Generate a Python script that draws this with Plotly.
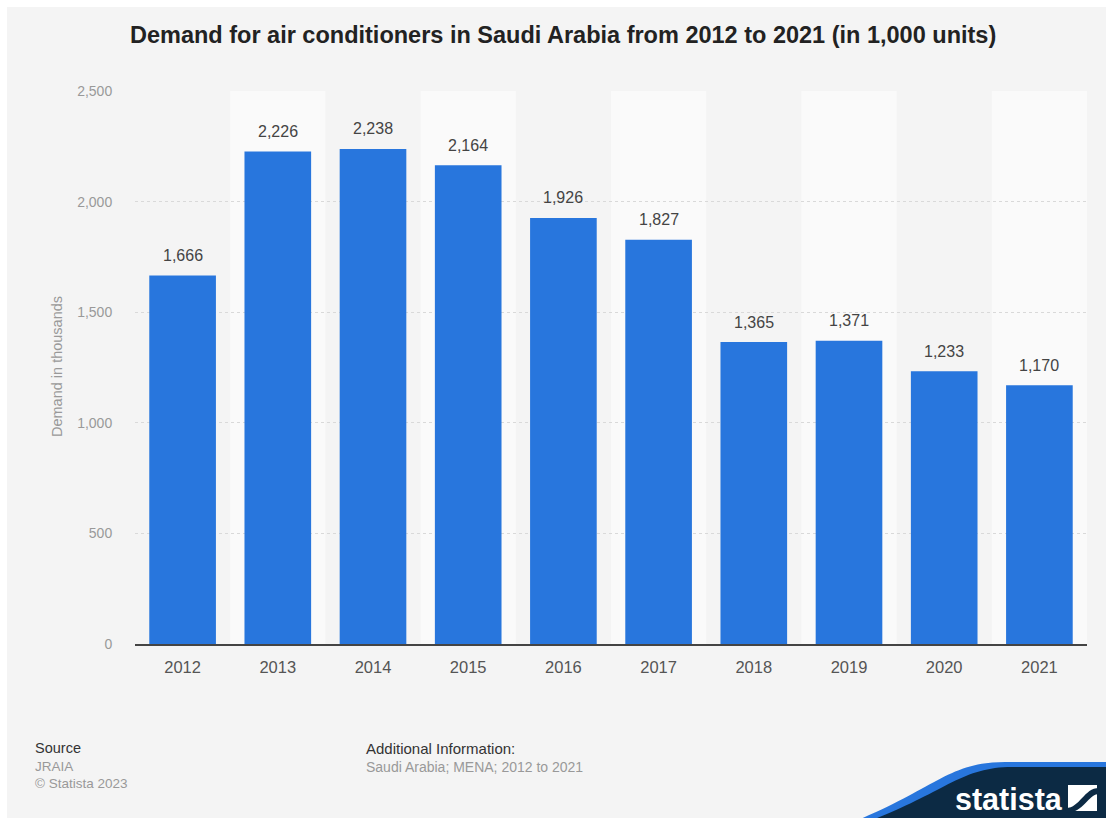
import plotly.graph_objects as go

years = ["2012", "2013", "2014", "2015", "2016", "2017", "2018", "2019", "2020", "2021"]
demand = [1666, 2226, 2238, 2164, 1926, 1827, 1365, 1371, 1233, 1170]
y_ticks = [0, 500, 1000, 1500, 2000, 2500]

W, H = 1106, 818
L, R, T, B = 135, 1087, 91, 644

def px(x):
    return (x - L) / (R - L)

def py(y):
    return (B - y) / (B - T)

FONT = "Liberation Sans, Arial, sans-serif"
BLUE = "#2876dd"
NAVY = "#0c2a44"

fig = go.Figure()
fig.add_trace(go.Bar(
    x=years, y=demand, marker=dict(color=BLUE, line=dict(width=0)),
    width=0.7, hoverinfo="skip",
))

shapes = []
# card background
shapes.append(dict(type="rect", xref="paper", yref="paper", x0=px(7), x1=px(W + 2),
                   y0=py(7), y1=py(H + 2), fillcolor="#f4f4f4", line=dict(width=0), layer="below"))
# alternating column bands
for i, _ in enumerate(years):
    if i % 2 == 1:
        shapes.append(dict(type="rect", xref="x", yref="paper", x0=i - 0.5, x1=i + 0.5,
                           y0=0, y1=1, fillcolor="#fafafa", line=dict(width=0), layer="below"))

def P(x, y):
    return f"{px(x):.5f},{py(y):.5f}"

blue_path = f"M {P(858,820)} C {P(935,788)} {P(950,762)} {P(1005,762)} L {P(1108,762)} L {P(1108,820)} Z"
navy_path = f"M {P(872,820)} C {P(945,792)} {P(962,767)} {P(1012,767)} L {P(1108,767)} L {P(1108,820)} Z"
shapes.append(dict(type="path", xref="paper", yref="paper", path=blue_path, fillcolor=BLUE, line=dict(width=0), layer="above"))
shapes.append(dict(type="path", xref="paper", yref="paper", path=navy_path, fillcolor=NAVY, line=dict(width=0), layer="above"))
# logo icon
shapes.append(dict(type="rect", xref="paper", yref="paper", x0=px(1068), x1=px(1097), y0=py(811), y1=py(785),
                   fillcolor="white", line=dict(width=0), layer="above"))
icon_cut = f"M {P(1066,808)} C {P(1080,808)} {P(1084,788)} {P(1099,788)} L {P(1099,794)} C {P(1088,794)} {P(1084,813)} {P(1066,813)} Z"
shapes.append(dict(type="path", xref="paper", yref="paper", path=icon_cut, fillcolor=NAVY, line=dict(width=0), layer="above"))

annotations = [
    dict(text="<b>Demand for air conditioners in Saudi Arabia from 2012 to 2021 (in 1,000 units)</b>",
         xref="paper", yref="paper", x=px(563), y=py(35), xanchor="center", yanchor="middle",
         showarrow=False, font=dict(size=23.5, color="#222", family=FONT)),
    dict(text="Demand in thousands", xref="paper", yref="paper", x=px(57), y=py(367), textangle=-90,
         xanchor="center", yanchor="middle", showarrow=False, font=dict(size=14.5, color="#999", family=FONT)),
    dict(text="Source", xref="paper", yref="paper", x=px(33), y=py(748), xanchor="left", yanchor="middle",
         showarrow=False, font=dict(size=14.5, color="#333", family=FONT)),
    dict(text="JRAIA", xref="paper", yref="paper", x=px(33), y=py(766), xanchor="left", yanchor="middle",
         showarrow=False, font=dict(size=13.5, color="#999", family=FONT)),
    dict(text="© Statista 2023", xref="paper", yref="paper", x=px(33), y=py(783), xanchor="left", yanchor="middle",
         showarrow=False, font=dict(size=13.5, color="#999", family=FONT)),
    dict(text="Additional Information:", xref="paper", yref="paper", x=px(364), y=py(748), xanchor="left",
         yanchor="middle", showarrow=False, font=dict(size=15, color="#333", family=FONT)),
    dict(text="Saudi Arabia; MENA; 2012 to 2021", xref="paper", yref="paper", x=px(364), y=py(767),
         xanchor="left", yanchor="middle", showarrow=False, font=dict(size=14, color="#999", family=FONT)),
    dict(text="<b>statista</b>", xref="paper", yref="paper", x=px(953), y=py(799), xanchor="left",
         yanchor="middle", showarrow=False, font=dict(size=30.5, color="white", family=FONT)),
]
# value labels above bars
for i, v in enumerate(demand):
    annotations.append(dict(text=f"{v:,}", x=i, y=v, xref="x", yref="y", yshift=20,
                            xanchor="center", yanchor="middle", showarrow=False,
                            font=dict(size=16, color="#444", family=FONT)))

fig.update_layout(
    width=W, height=H, margin=dict(l=L, r=W - R, t=T, b=H - B),
    paper_bgcolor="white", plot_bgcolor="rgba(0,0,0,0)",
    showlegend=False, shapes=shapes, annotations=annotations, bargap=0.3,
    font=dict(family=FONT),
)
fig.update_xaxes(type="category", range=[-0.5, len(years) - 0.5], showgrid=False, showline=True,
                 linecolor="#444", linewidth=1.5,
                 ticks="outside", ticklen=7, tickcolor="rgba(0,0,0,0)",
                 tickfont=dict(size=16.5, color="#555", family=FONT), fixedrange=True)
fig.update_yaxes(range=[0, 2500], tickvals=y_ticks, tickformat=",", showgrid=True, gridcolor="#d9d9d9",
                 griddash="dot", gridwidth=1, zeroline=False, showline=False,
                 ticks="outside", ticklen=19, tickcolor="rgba(0,0,0,0)",
                 tickfont=dict(size=14, color="#999", family=FONT), fixedrange=True)

fig.write_html("out.html")
